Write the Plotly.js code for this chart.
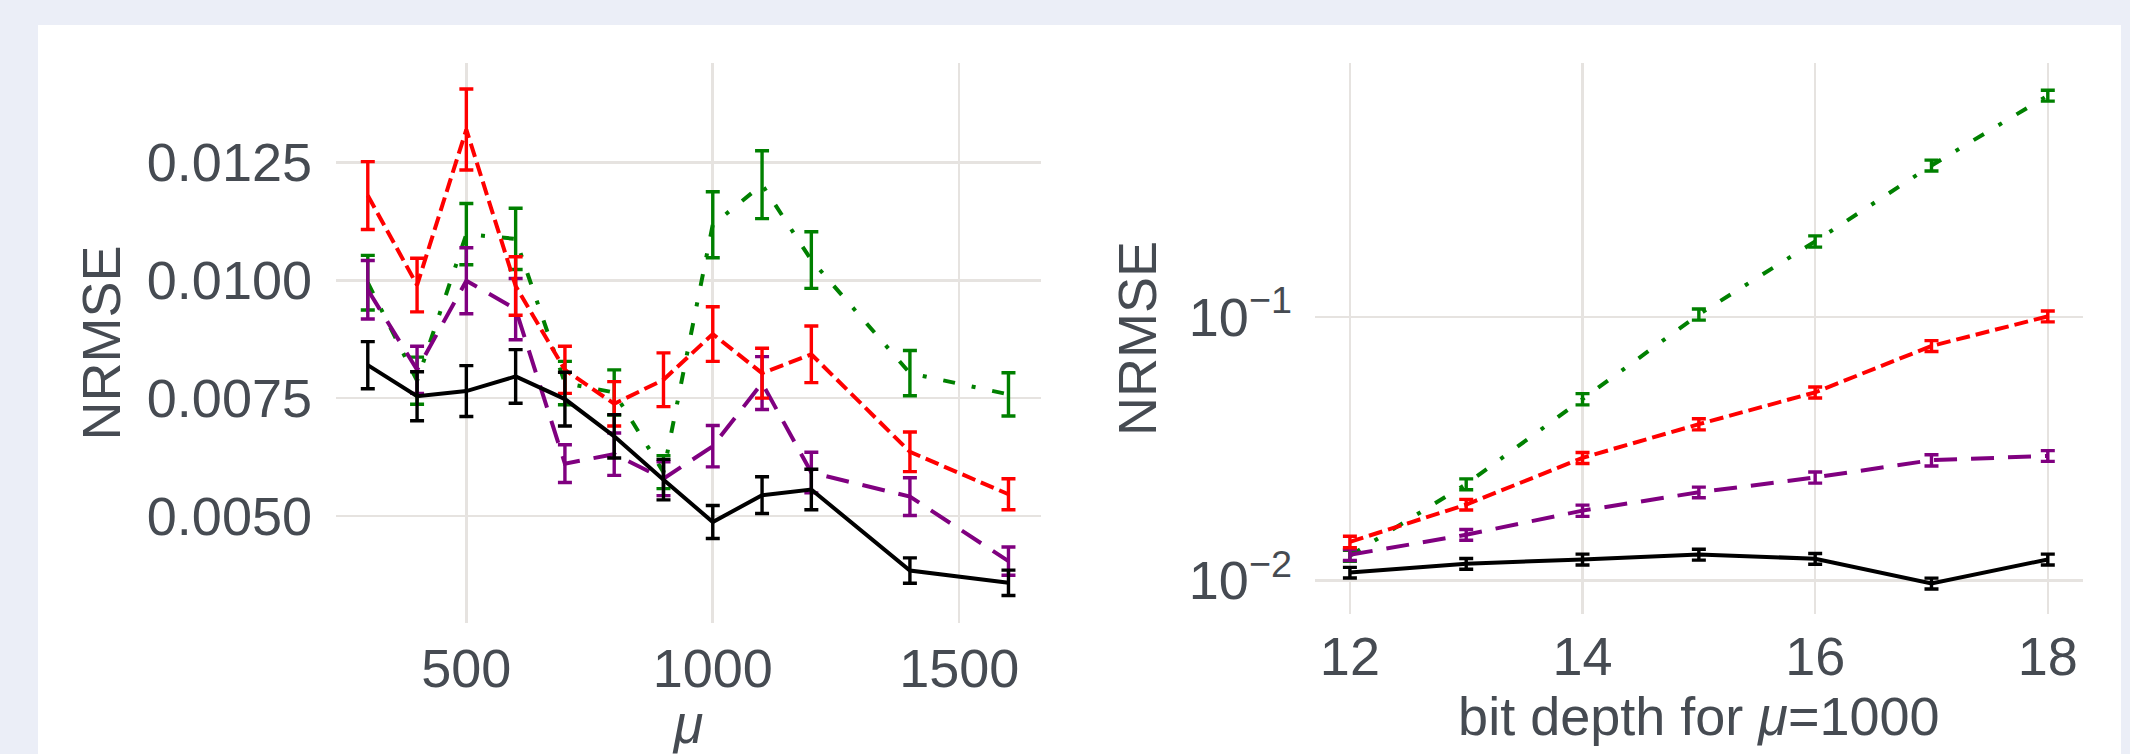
<!DOCTYPE html>
<html>
<head>
<meta charset="utf-8">
<script src="https://cdn.plot.ly/plotly-3.0.1.min.js"></script>
<style>
  html, body { margin: 0; padding: 0; background: #ebeef7; width: 2130px; height: 754px; overflow: hidden; }
  #chart { position: absolute; left: 38px; top: 25px; width: 2083px; height: 729px; background: #ffffff; }
</style>
</head>
<body>
<div id="chart"></div>
<script>
// ---- Left panel: NRMSE vs mu ----
const muValues = [300, 400, 500, 600, 700, 800, 900, 1000, 1100, 1200, 1400, 1600];
const muBlack     = [0.0082, 0.00754, 0.00765, 0.00796, 0.00748, 0.00669, 0.00577, 0.00487, 0.00544, 0.00556, 0.00384, 0.00358];
const muBlackErr  = [0.0005, 0.00052, 0.00054, 0.00057, 0.00057, 0.00046, 0.00043, 0.00035, 0.00039, 0.00043, 0.00027, 0.00027];
const muRed       = [0.0118, 0.0099, 0.0132, 0.00988, 0.0081, 0.00738, 0.00789, 0.00886, 0.00803, 0.00843, 0.00636, 0.00546];
const muRedErr    = [0.00072, 0.00057, 0.00086, 0.00062, 0.0005, 0.00047, 0.00057, 0.00058, 0.00053, 0.0006, 0.00042, 0.00033];
const muGreen     = [0.00995, 0.00787, 0.01098, 0.01088, 0.00782, 0.00762, 0.00593, 0.01118, 0.01203, 0.01043, 0.00803, 0.00758];
const muGreenErr  = [0.00058, 0.0005, 0.00065, 0.00065, 0.00046, 0.00048, 0.00035, 0.0007, 0.00072, 0.0006, 0.00048, 0.00046];
const muPurple    = [0.0098, 0.0081, 0.00999, 0.00939, 0.00611, 0.00631, 0.00579, 0.00648, 0.00782, 0.00592, 0.00541, 0.00404];
const muPurpleErr = [0.00062, 0.0005, 0.0007, 0.00065, 0.0004, 0.00045, 0.00036, 0.00044, 0.00056, 0.00043, 0.0004, 0.0003];
const muTicks = [500, 1000, 1500];
const muYTicks = [0.005, 0.0075, 0.01, 0.0125];
const muYTickText = ['0.0050', '0.0075', '0.0100', '0.0125'];

// ---- Right panel: NRMSE vs bit depth (mu = 1000) ----
const bitDepth    = [12, 13, 14, 15, 16, 17, 18];
const bdBlack     = [0.0107, 0.01156, 0.0120, 0.01253, 0.01208, 0.00973, 0.0120];
const bdBlackErr  = [0.0005, 0.00055, 0.00057, 0.0006, 0.00057, 0.00046, 0.00057];
const bdRed       = [0.0140, 0.0194, 0.0292, 0.0392, 0.0518, 0.0777, 0.1007];
const bdRedErr    = [0.0007, 0.0009, 0.0014, 0.0019, 0.0025, 0.0037, 0.0048];
const bdGreen     = [0.0124, 0.0232, 0.0488, 0.1024, 0.194, 0.377, 0.695];
const bdGreenErr  = [0.0006, 0.0011, 0.0024, 0.005, 0.0095, 0.018, 0.033];
const bdPurple    = [0.0125, 0.0149, 0.0184, 0.0216, 0.0246, 0.0286, 0.0297];
const bdPurpleErr = [0.0006, 0.0007, 0.0009, 0.001, 0.0012, 0.0014, 0.0014];
const bdTicks = [12, 14, 16, 18];
const bdYTicks = [0.01, 0.1];
const bdYTickText = ['10<sup>−2</sup>', '10<sup>−1</sup>'];

const styles = {
  black:  { color: '#000000', dash: 'solid' },
  red:    { color: '#ff0000', dash: '14px,6px' },
  purple: { color: '#800080', dash: '23px,14px' },
  green:  { color: '#008000', dash: '12px,17px,4px,17px' }
};

function trace(x, y, err, st, xa, ya) {
  return {
    x: x, y: y, type: 'scatter', mode: 'lines',
    xaxis: xa, yaxis: ya, showlegend: false,
    line: { color: st.color, width: 4, dash: st.dash },
    error_y: { type: 'data', array: err, visible: true, color: st.color, thickness: 3.4, width: 7 }
  };
}

const data = [
  trace(muValues, muGreen, muGreenErr, styles.green, 'x', 'y'),
  trace(muValues, muPurple, muPurpleErr, styles.purple, 'x', 'y'),
  trace(muValues, muRed, muRedErr, styles.red, 'x', 'y'),
  trace(muValues, muBlack, muBlackErr, styles.black, 'x', 'y'),
  trace(bitDepth, bdGreen, bdGreenErr, styles.green, 'x2', 'y2'),
  trace(bitDepth, bdPurple, bdPurpleErr, styles.purple, 'x2', 'y2'),
  trace(bitDepth, bdRed, bdRedErr, styles.red, 'x2', 'y2'),
  trace(bitDepth, bdBlack, bdBlackErr, styles.black, 'x2', 'y2')
];

const textColor = '#464b52';
const gridColor = '#e6e3e0';
const tickFont = { family: 'Liberation Sans, Arial, sans-serif', size: 54, color: textColor };
const titleFont = { family: 'Liberation Sans, Arial, sans-serif', size: 54, color: textColor };

const common = {
  showgrid: true, gridcolor: gridColor, gridwidth: 2.6,
  zeroline: false, showline: false, ticks: '',
  tickfont: tickFont, automargin: false
};

const W = 2083, H = 729;
const layout = {
  width: W, height: H,
  margin: { l: 0, r: 0, t: 0, b: 0, pad: 0 },
  paper_bgcolor: '#ffffff', plot_bgcolor: '#ffffff',
  font: { family: 'Liberation Sans, Arial, sans-serif', color: textColor },
  xaxis: Object.assign({}, common, {
    domain: [298 / W, 1003 / W], anchor: 'y',
    range: [235.5, 1666], tickvals: muTicks, ticklabelstandoff: 9,
    title: { text: '<i>μ</i>', font: titleFont, standoff: 4 }
  }),
  yaxis: Object.assign({}, common, {
    domain: [(H - 597.7) / H, (H - 38.3) / H], anchor: 'x',
    range: [0.002734, 0.014606], tickvals: muYTicks, ticktext: muYTickText, ticklabelstandoff: 23,
    title: { text: 'NRMSE', font: titleFont, standoff: 8 }
  }),
  xaxis2: Object.assign({}, common, {
    domain: [1277 / W, 2044.7 / W], anchor: 'y2',
    range: [11.7, 18.3], tickvals: bdTicks, ticklabelstandoff: 6,
    title: { text: 'bit depth for <i>μ</i>=1000', font: titleFont, standoff: 12 }
  }),
  yaxis2: Object.assign({}, common, {
    domain: [(H - 589) / H, (H - 37.9) / H], anchor: 'x2',
    type: 'log', range: [-2.128, -0.034], tickvals: bdYTicks, ticktext: bdYTickText, ticklabelstandoff: 22,
    title: { text: 'NRMSE', font: titleFont, standoff: 14 }
  })
};

Plotly.newPlot('chart', data, layout, { displayModeBar: false, staticPlot: true });
</script>
</body>
</html>
